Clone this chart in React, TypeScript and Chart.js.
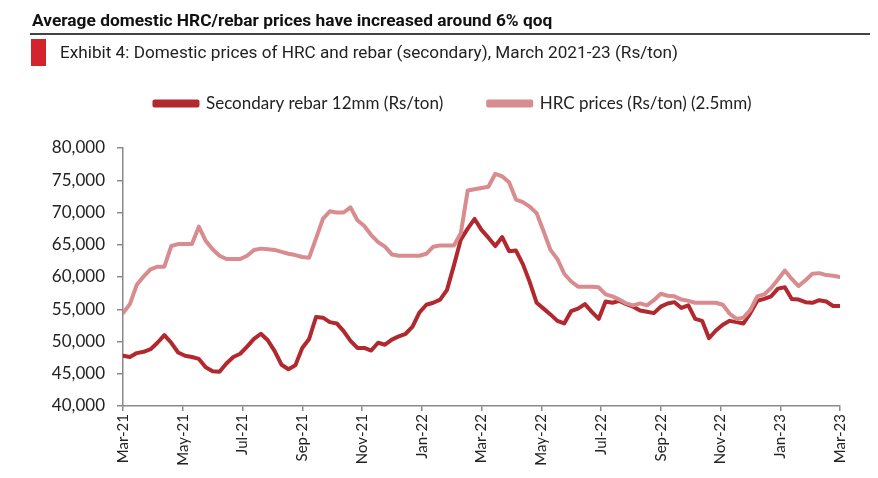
import React, { useEffect, useRef } from "react";
import { Chart, registerables } from "chart.js";

Chart.register(...registerables);

const tickLabels = [
  "Mar-21", "May-21", "Jul-21", "Sep-21", "Nov-21", "Jan-22", "Mar-22",
  "May-22", "Jul-22", "Sep-22", "Nov-22", "Jan-23", "Mar-23",
];

// weekly prices, Mar-2021 .. Mar-2023 (Rs/ton)
const rebar = [
  47800, 47600, 48200, 48400, 48800, 49800, 51000, 49800, 48300, 47800,
  47600, 47300, 46000, 45400, 45300, 46600, 47600, 48100, 49200, 50400,
  51200, 50200, 48500, 46400, 45700, 46300, 49000, 50400, 53800, 53700,
  53000, 52800, 51600, 50100, 49000, 49000, 48600, 49800, 49500, 50300,
  50800, 51200, 52300, 54500, 55700, 56000, 56500, 58000, 61800, 65800,
  67500, 69000, 67300, 66100, 64800, 66200, 64000, 64100, 62000, 59200,
  56000, 55100, 54200, 53200, 52800, 54700, 55100, 55800, 54600, 53500,
  56200, 56000, 56300, 55800, 55400, 54800, 54600, 54400, 55400, 55900,
  56100, 55200, 55600, 53500, 53200, 50500, 51700, 52600, 53200, 53000,
  52800, 54400, 56300, 56600, 57000, 58200, 58400, 56600, 56500, 56100,
  56000, 56400, 56200, 55500, 55500,
];

const hrc = [
  54400, 55800, 58800, 60100, 61200, 61600, 61600, 64800, 65100, 65100,
  65100, 67800, 65600, 64300, 63300, 62800, 62800, 62800, 63300, 64200,
  64400, 64300, 64200, 63900, 63600, 63400, 63100, 63000, 66000, 69000,
  70200, 70000, 70000, 70800, 68800, 67900, 66500, 65400, 64700, 63500,
  63300, 63300, 63300, 63300, 63600, 64700, 64900, 64900, 64900, 66800,
  73400, 73600, 73800, 74000, 76000, 75600, 74700, 72000, 71600, 70900,
  69900, 67100, 64200, 62800, 60500, 59300, 58500, 58500, 58500, 58400,
  57300, 57000, 56500, 55900, 55600, 55900, 55600, 56400, 57400, 57100,
  57000, 56500, 56300, 56000, 56000, 56000, 56000, 55700, 54300, 53500,
  53700, 54900, 57000, 57300, 58300, 59600, 61000, 59700, 58600, 59500,
  60500, 60600, 60300, 60200, 60000,
];

const MONTHS_SPAN = 24;
const DARK = "#b1282e";
const LIGHT = "#d98c8f";
const FONT = "Lato, 'Open Sans', sans-serif";

export default function App() {
  const ref = useRef<HTMLCanvasElement | null>(null);

  useEffect(() => {
    if (!ref.current) return;
    const toPts = (arr: number[]) =>
      arr.map((y, i) => ({ x: (i * MONTHS_SPAN) / (arr.length - 1), y }));

    const legendTweak = {
      id: "legendTweak",
      beforeInit(chart: any) {
        const lg = chart.legend;
        if (!lg) return;
        const fit = lg.fit;
        lg.fit = function () {
          fit.call(this);
          this.height += 26;
        };
      },
      afterLayout(chart: any) {
        const lg = chart.legend;
        if (!lg) return;
        lg.left += 33;
        lg.right += 33;
      },
    };

    const chart = new Chart(ref.current, {
      type: "line",
      data: {
        datasets: [
          {
            label: "Secondary rebar 12mm (Rs/ton)",
            data: toPts(rebar),
            borderColor: DARK,
            backgroundColor: DARK,
            borderWidth: 4,
            pointRadius: 0,
            borderJoinStyle: "round",
            borderCapStyle: "round",
            order: 1,
          },
          {
            label: "HRC prices (Rs/ton) (2.5mm)",
            data: toPts(hrc),
            borderColor: LIGHT,
            backgroundColor: LIGHT,
            borderWidth: 4,
            pointRadius: 0,
            borderJoinStyle: "round",
            borderCapStyle: "round",
            order: 0,
          },
        ],
      },
      options: {
        animation: false,
        responsive: false,
        maintainAspectRatio: false,
        layout: { padding: { left: 0, right: 38, top: 50, bottom: 0 } },
        plugins: {
          tooltip: { enabled: false },
          legend: {
            position: "top",
            align: "center",
            labels: {
              sort: (a: any, b: any) => a.datasetIndex - b.datasetIndex,
              boxWidth: 43,
              boxHeight: 4,
              padding: 45,
              color: "#222",
              font: { family: FONT, size: 17 },
            },
          },
        },
        scales: {
          x: {
            type: "linear",
            min: 0,
            max: MONTHS_SPAN,
            afterFit: (s: any) => {
              s.height = 72;
            },
            ticks: {
              stepSize: 2,
              autoSkip: false,
              maxRotation: 90,
              minRotation: 90,
              padding: 3,
              color: "#222",
              font: { family: FONT, size: 15 },
              callback: (v: any) => tickLabels[Math.round(Number(v) / 2)] ?? "",
            },
            grid: { drawOnChartArea: false, tickLength: 5, color: "#8a8a8a", lineWidth: 1.5 },
            border: { color: "#8a8a8a", width: 1.5 },
          },
          y: {
            min: 40000,
            max: 80000,
            afterFit: (s: any) => {
              s.width = 123;
            },
            ticks: {
              stepSize: 5000,
              padding: 12,
              color: "#222",
              font: { family: FONT, size: 17 },
              callback: (v: any) => Number(v).toLocaleString("en-US"),
            },
            grid: { drawOnChartArea: false, tickLength: 6, color: "#8a8a8a", lineWidth: 1.5 },
            border: { color: "#8a8a8a", width: 1.5 },
          },
        },
      },
      plugins: [legendTweak],
    } as any);

    return () => chart.destroy();
  }, []);

  return (
    <div
      style={{
        position: "absolute",
        left: 0,
        top: 0,
        width: 878,
        height: 478,
        overflow: "hidden",
        background: "#fff",
      }}
    >
      <canvas
        ref={ref}
        width={878}
        height={478}
        style={{ position: "absolute", left: 0, top: 0, width: 878, height: 478 }}
      />
      <div
        style={{
          position: "absolute",
          left: 32,
          top: 10,
          fontFamily: "Roboto, sans-serif",
          fontWeight: 700,
          fontSize: 17,
          color: "#111",
          whiteSpace: "nowrap",
          transform: "scaleX(1.02)",
          transformOrigin: "left top",
        }}
      >
        Average domestic HRC/rebar prices have increased around 6% qoq
      </div>
      <div
        style={{
          position: "absolute",
          left: 30,
          top: 33,
          width: 840,
          height: 1.5,
          background: "#444",
        }}
      />
      <div
        style={{
          position: "absolute",
          left: 31,
          top: 39,
          width: 15,
          height: 27,
          background: "#d4232d",
        }}
      />
      <div
        style={{
          position: "absolute",
          left: 60,
          top: 42,
          fontFamily: "Roboto, sans-serif",
          fontSize: 17,
          color: "#222",
          whiteSpace: "nowrap",
          transform: "scaleX(1.01)",
          transformOrigin: "left top",
        }}
      >
        Exhibit 4: Domestic prices of HRC and rebar (secondary), March 2021-23 (Rs/ton)
      </div>
    </div>
  );
}
